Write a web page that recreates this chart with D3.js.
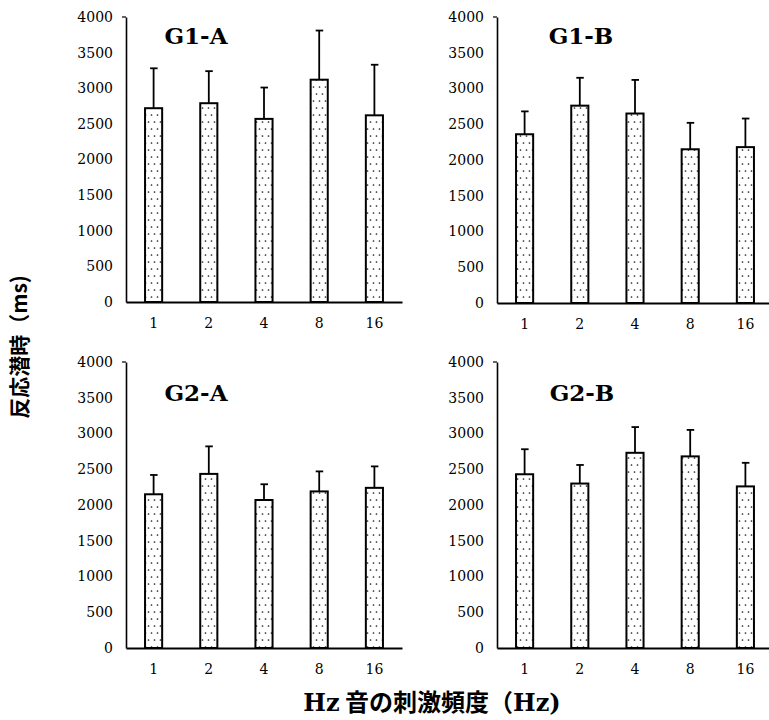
<!DOCTYPE html>
<html>
<head>
<meta charset="utf-8">
<script src="https://cdn.jsdelivr.net/npm/d3@7/dist/d3.min.js"></script>
<style>
  html, body { margin: 0; padding: 0; background: #fff; }
  svg { display: block; }
  .serif { font-family: "DejaVu Serif", "Liberation Serif", "Noto Serif", serif; }
  .cjk { font-family: "Noto Sans CJK JP", "Noto Sans", sans-serif; }
</style>
</head>
<body>
<svg id="chart" width="769" height="720"></svg>
<script>
// ---- data ----
const categories = ["1", "2", "4", "8", "16"];
const yTicks = [0, 500, 1000, 1500, 2000, 2500, 3000, 3500, 4000];
const panelTitles = ["G1-A", "G1-B", "G2-A", "G2-B"];
const meanG1A = [2720, 2790, 2570, 3120, 2620];
const sdG1A   = [560, 450, 440, 690, 710];
const meanG1B = [2360, 2760, 2650, 2150, 2180];
const sdG1B   = [320, 390, 470, 370, 400];
const meanG2A = [2150, 2435, 2070, 2190, 2240];
const sdG2A   = [270, 385, 220, 280, 300];
const meanG2B = [2430, 2300, 2730, 2680, 2260];
const sdG2B   = [350, 260, 360, 370, 330];
const yLabel = "反応潜時（ms)";
const xLabelParts = [["Hz", "serif"], [" 音の刺激頻度（", "cjk"], ["Hz)", "serif"]];

// ---- layout ----
const layouts = [
  { x0: 126, x1: 402, yTop: 17, yBase: 302, tx: 196, ty: 44 },
  { x0: 497, x1: 773, yTop: 17, yBase: 303, tx: 581, ty: 44 },
  { x0: 126, x1: 402, yTop: 362, yBase: 648, tx: 196, ty: 401 },
  { x0: 497, x1: 773, yTop: 362, yBase: 648, tx: 582, ty: 401 }
];
const panelData = [
  { title: panelTitles[0], mean: meanG1A, sd: sdG1A },
  { title: panelTitles[1], mean: meanG1B, sd: sdG1B },
  { title: panelTitles[2], mean: meanG2A, sd: sdG2A },
  { title: panelTitles[3], mean: meanG2B, sd: sdG2B }
];

const svg = d3.select("#chart");

// dotted fill pattern
const defs = svg.append("defs");
const pat = defs.append("pattern")
  .attr("id", "dots").attr("patternUnits", "userSpaceOnUse")
  .attr("width", 6).attr("height", 14);
pat.append("rect").attr("width", 6).attr("height", 14).attr("fill", "#fff");
pat.append("circle").attr("cx", 1.5).attr("cy", 3).attr("r", 0.85).attr("fill", "#222");
pat.append("circle").attr("cx", 4.5).attr("cy", 10).attr("r", 0.85).attr("fill", "#222");

panelData.forEach((p, i) => {
  const L = layouts[i];
  const x = d3.scaleBand().domain(categories).range([L.x0, L.x1])
    .paddingInner(0.69).paddingOuter(0.345);
  const y = d3.scaleLinear().domain([0, 4000]).range([L.yBase, L.yTop]);
  const g = svg.append("g");

  const rows = categories.map((c, k) => ({ c, m: p.mean[k], s: p.sd[k] }));
  g.selectAll("rect.bar").data(rows).join("rect")
    .attr("class", "bar")
    .attr("x", d => x(d.c))
    .attr("y", d => y(d.m))
    .attr("width", x.bandwidth())
    .attr("height", d => y(0) - y(d.m))
    .attr("fill", "url(#dots)")
    .attr("stroke", "#000").attr("stroke-width", 2);

  const cx = d => x(d.c) + x.bandwidth() / 2;
  g.selectAll("line.err").data(rows).join("line")
    .attr("class", "err")
    .attr("x1", cx).attr("x2", cx)
    .attr("y1", d => y(d.m)).attr("y2", d => y(d.m + d.s))
    .attr("stroke", "#000").attr("stroke-width", 1.8);
  g.selectAll("line.cap").data(rows).join("line")
    .attr("class", "cap")
    .attr("x1", d => cx(d) - 3.5).attr("x2", d => cx(d) + 4)
    .attr("y1", d => y(d.m + d.s)).attr("y2", d => y(d.m + d.s))
    .attr("stroke", "#000").attr("stroke-width", 1.8);

  const ya = g.append("g").attr("transform", `translate(${L.x0},0)`)
    .call(d3.axisLeft(y).tickValues(yTicks).tickFormat(d3.format("d"))
      .tickSize(0).tickSizeOuter(0).tickPadding(13));
  ya.attr("font-family", null).attr("font-size", null);
  ya.select(".domain").attr("stroke", "#000").attr("stroke-width", 1.6);
  ya.selectAll("text").attr("class", "serif").style("font-size", "14px").attr("fill", "#000");
  ya.append("line").attr("x1", -4).attr("x2", 0).attr("y1", y(4000)).attr("y2", y(4000))
    .attr("stroke", "#000").attr("stroke-width", 1.2);

  const xa = g.append("g").attr("transform", `translate(0,${L.yBase})`)
    .call(d3.axisBottom(x).tickSize(0).tickSizeOuter(0).tickPadding(16));
  xa.attr("font-family", null).attr("font-size", null);
  xa.select(".domain").attr("stroke", "#000").attr("stroke-width", 2);
  xa.selectAll("text").attr("class", "serif").style("font-size", "14px").attr("fill", "#000");

  g.append("text")
    .attr("class", "serif")
    .attr("x", L.tx)
    .attr("y", L.ty)
    .attr("text-anchor", "middle")
    .style("font-weight", "bold").style("font-size", "23px")
    .attr("fill", "#000")
    .text(p.title);
});

svg.append("text")
  .attr("class", "cjk")
  .attr("transform", "translate(27,347) rotate(-90)")
  .attr("text-anchor", "middle")
  .style("font-weight", "bold").style("font-size", "21px")
  .attr("fill", "#000")
  .text(yLabel);

const xl = svg.append("text")
  .attr("x", 432).attr("y", 711)
  .attr("text-anchor", "middle")
  .style("font-weight", "bold").style("font-size", "24px")
  .attr("fill", "#000");
xl.selectAll("tspan").data(xLabelParts).join("tspan")
  .attr("class", d => d[1])
  .text(d => d[0]);
</script>
</body>
</html>
